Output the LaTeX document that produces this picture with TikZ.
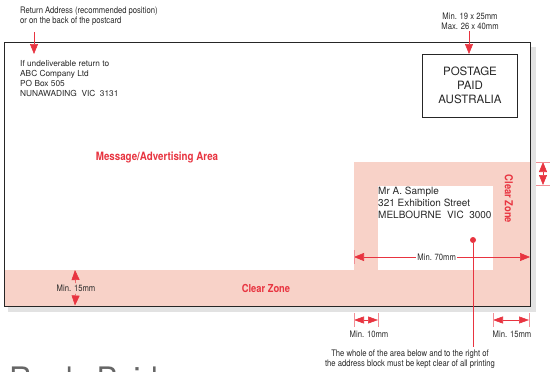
\documentclass[tikz,border=0pt]{standalone}
\usepackage{fontspec}
\setmainfont{TeX Gyre Heros}
\newfontfamily\narrowfont{TeX Gyre Heros}[FakeStretch=0.85]
\usetikzlibrary{arrows.meta}
\definecolor{apred}{RGB}{232,52,64}
\definecolor{appink}{RGB}{248,210,200}
\definecolor{apgrey}{RGB}{226,226,226}
\definecolor{aptext}{RGB}{40,40,40}

\begin{document}
\begin{tikzpicture}[x=1pt,y=-1pt,
    dim/.style={apred,line width=0.6pt},
    tick/.style={apred!55,line width=0.6pt},
    >={Triangle[width=8pt,length=10pt]},
    note/.style={font=\narrowfont\fontsize{9}{9.5}\selectfont,text=aptext,inner sep=0pt,align=center},
    zone/.style={font=\narrowfont\bfseries\fontsize{11.5}{12}\selectfont,text=apred,inner sep=0pt}]
    \useasboundingbox (0,0) rectangle (552,372);
    % card, shadow and clear zone
    \fill[apgrey] (8,47) rectangle (536,312);
    \fill[white] (4,42) rectangle (530,306);
    \fill[appink] (4,270) -- (354,270) -- (354,162) -- (530,162) -- (530,306) -- (4,306) -- cycle;
    \fill[white] (378,186) rectangle (493,270);
    \draw[line width=0.8pt,black!85] (4,42) rectangle (530,306);
    \draw[line width=0.6pt,black!85] (422,54) rectangle (517,117);

    \begin{scope}[every node/.style={inner sep=0pt,text=aptext}]
        \node[note,anchor=north west,align=left] (retnote) at (20,7) {Return Address (recommended position)\\or on the back of the postcard};
        \node[anchor=north west,align=left,font=\fontsize{8.3}{10}\selectfont] (retaddr) at (20,60) {If undeliverable return to\\ABC Company Ltd\\PO Box 505\\NUNAWADING\ \ VIC\ \ 3131};
        \node[note,anchor=north] (stampnote) at (470,13) {Min. 19 x 25mm\\Max. 26 x 40mm};
        \node[align=center,font=\fontsize{11.5}{14}\selectfont] (stamp) at (470,85.5) {POSTAGE\\PAID\\AUSTRALIA};
        \node[anchor=north west,align=left,font=\fontsize{10}{12}\selectfont] (addr) at (378,187) {Mr A. Sample\\321 Exhibition Street\\MELBOURNE\ \ VIC\ \ 3000};
        \node[zone] (msg) at (157,157) {Message/Advertising Area};
        \node[zone,font=\narrowfont\bfseries\fontsize{11}{12}\selectfont] (clearbottom) at (266,288) {Clear Zone};
        \node[zone,font=\narrowfont\bfseries\fontsize{11}{12}\selectfont,rotate=-90] (clearright) at (509,199) {Clear Zone};
        \node[note,outer sep=2pt] (min15left) at (76,288.5) {Min. 15mm};
        \node[note] (min10) at (369,334.5) {Min. 10mm};
        \node[note] (min15right) at (512,334.5) {Min. 15mm};
        \node[note,anchor=north] (clearnote) at (410,350) {The whole of the area below and to the right of\\the address block must be kept clear of all printing};
        \node[fill=apred,circle,minimum size=6pt] (dot) at (473,240) {};
    \end{scope}

    % heading cut off by the page
    \begin{scope}
        \clip (0,0) rectangle (552,372);
        \node[anchor=base west,inner sep=0pt,text=black!60,font=\fontsize{31}{31}\selectfont] (heading) at (9,389) {Reply Paid};
    \end{scope}

    % end points of the pointers and dimension lines
    \coordinate (rettop) at (34,32);
    \coordinate (rettip) at (34,54);
    \coordinate (stamptop) at (469,31);
    \coordinate (stamptip) at (469,54);
    \coordinate (seventyL) at (354,257);
    \coordinate (seventyR) at (530,257);
    \coordinate (stripT) at (75,270);
    \coordinate (stripB) at (75,305.5);
    \coordinate (gapT) at (543,162);
    \coordinate (gapB) at (543,185);
    \coordinate (tenL) at (354,320);
    \coordinate (tenR) at (378,320);
    \coordinate (fifL) at (493,320);
    \coordinate (fifR) at (529,320);
    \coordinate (dotfoot) at (473,347);

    \draw[dim] (rettop) edge[->] (rettip);
    \draw[dim] (stamptop) edge[->] (stamptip);
    \draw[dim] (min15left) edge[->] (stripT);
    \draw[dim] (min15left) edge[->] (stripB);
    \draw[dim] (seventyL) edge[<->] node[note,fill=white,inner sep=1.5pt,pos=0.47] {Min. 70mm} (seventyR);
    \draw[dim] (gapT) edge[<->] (gapB);
    \draw[dim] (tenL) edge[<->,>={Triangle[width=7pt,length=10pt]}] (tenR);
    \draw[dim] (fifL) edge[<->,>={Triangle[width=7pt,length=10pt]}] (fifR);
    \draw[dim] (dot) edge (dotfoot);

    % ticks
    \draw[tick] (354,250) -- (354,264);
    \draw[tick] (536,162) -- (550,162);
    \draw[tick] (536,185) -- (550,185);
    \draw[tick] (354,313) -- (354,327);
    \draw[tick] (378,313) -- (378,327);
    \draw[tick] (493,313) -- (493,327);
    \draw[tick] (529,313) -- (529,327);
\end{tikzpicture}
\end{document}
